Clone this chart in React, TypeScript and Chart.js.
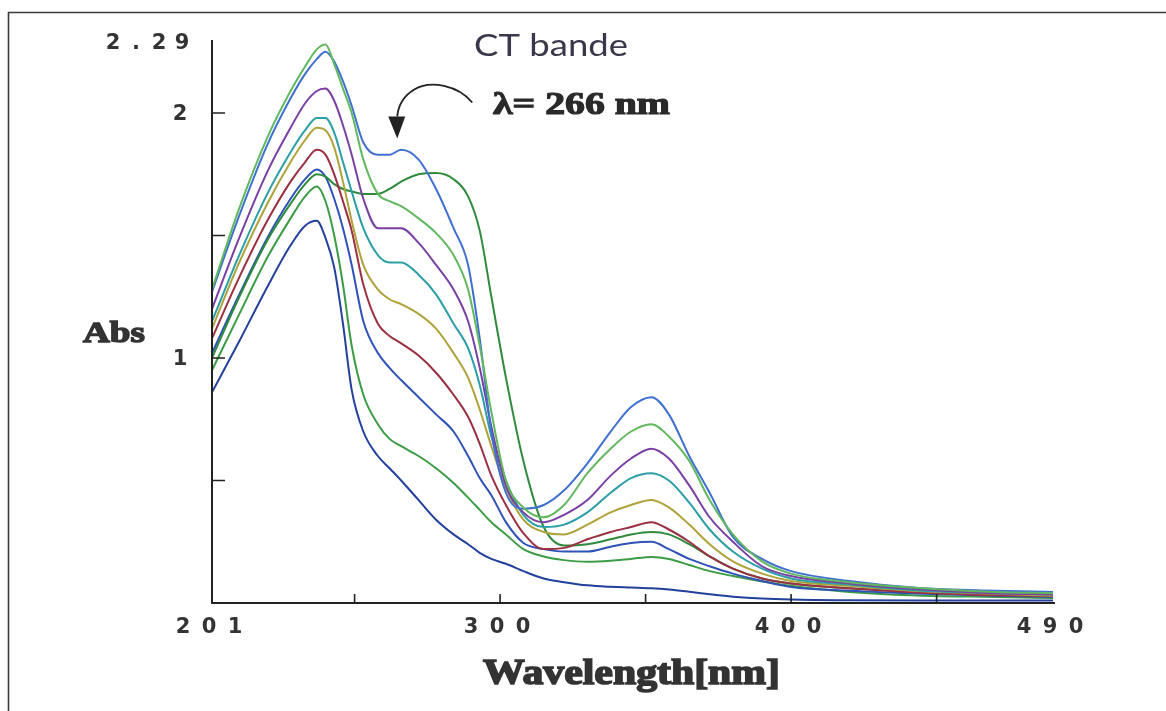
import React, { useEffect, useRef } from "react";
import { Chart, registerables } from "chart.js";

Chart.register(...registerables);

// Wavelength grid (nm)
const wavelengths = [201, 210, 220, 228, 233, 237, 240, 243, 246, 249, 253, 258, 262, 266, 272, 278, 284, 289, 293, 297, 302, 308, 315, 322, 330, 338, 345, 352, 358, 365, 372, 380, 390, 400, 420, 445, 470, 490];

// Absorbance series (top to bottom)
const absLightGreen = [1.28, 1.60, 1.90, 2.09, 2.19, 2.26, 2.28, 2.20, 2.10, 2.00, 1.81, 1.67, 1.64, 1.62, 1.57, 1.51, 1.42, 1.28, 1.05, 0.78, 0.50, 0.39, 0.35, 0.40, 0.53, 0.63, 0.70, 0.73, 0.68, 0.58, 0.42, 0.28, 0.17, 0.12, 0.085, 0.06, 0.045, 0.04];
const absBlue = [1.27, 1.57, 1.87, 2.06, 2.16, 2.22, 2.25, 2.21, 2.13, 2.03, 1.88, 1.83, 1.83, 1.85, 1.81, 1.69, 1.53, 1.38, 1.08, 0.70, 0.45, 0.385, 0.40, 0.46, 0.57, 0.70, 0.80, 0.84, 0.77, 0.60, 0.45, 0.27, 0.18, 0.13, 0.09, 0.06, 0.05, 0.045];
const absPurple = [1.20, 1.48, 1.76, 1.94, 2.04, 2.09, 2.10, 2.05, 1.95, 1.83, 1.65, 1.53, 1.53, 1.53, 1.47, 1.38, 1.28, 1.15, 0.96, 0.72, 0.48, 0.37, 0.33, 0.36, 0.42, 0.52, 0.59, 0.63, 0.59, 0.48, 0.35, 0.25, 0.15, 0.11, 0.08, 0.055, 0.04, 0.035];
const absTeal = [1.15, 1.41, 1.67, 1.84, 1.93, 1.98, 1.98, 1.92, 1.80, 1.68, 1.53, 1.42, 1.39, 1.39, 1.34, 1.26, 1.14, 1.04, 0.89, 0.68, 0.50, 0.36, 0.31, 0.32, 0.37, 0.45, 0.51, 0.53, 0.50, 0.41, 0.30, 0.21, 0.14, 0.10, 0.075, 0.05, 0.04, 0.035];
const absOlive = [1.12, 1.38, 1.63, 1.80, 1.89, 1.94, 1.93, 1.86, 1.72, 1.56, 1.38, 1.28, 1.24, 1.22, 1.18, 1.12, 1.02, 0.92, 0.79, 0.64, 0.47, 0.34, 0.29, 0.28, 0.32, 0.37, 0.40, 0.42, 0.39, 0.32, 0.24, 0.17, 0.12, 0.09, 0.07, 0.048, 0.038, 0.03];
const absRed = [1.08, 1.32, 1.56, 1.72, 1.80, 1.85, 1.83, 1.75, 1.64, 1.52, 1.30, 1.14, 1.09, 1.06, 1.01, 0.94, 0.85, 0.76, 0.65, 0.52, 0.40, 0.285, 0.22, 0.225, 0.26, 0.29, 0.31, 0.33, 0.30, 0.25, 0.19, 0.14, 0.10, 0.08, 0.06, 0.042, 0.032, 0.028];
const absDarkGreen = [1.00, 1.24, 1.48, 1.63, 1.71, 1.75, 1.74, 1.71, 1.69, 1.68, 1.67, 1.67, 1.69, 1.72, 1.75, 1.755, 1.73, 1.66, 1.52, 1.25, 0.92, 0.58, 0.31, 0.235, 0.24, 0.26, 0.28, 0.29, 0.28, 0.24, 0.19, 0.14, 0.10, 0.08, 0.06, 0.045, 0.035, 0.03];
const absBlueMid = [1.02, 1.25, 1.49, 1.65, 1.73, 1.77, 1.74, 1.65, 1.53, 1.38, 1.15, 1.02, 0.96, 0.91, 0.84, 0.77, 0.70, 0.60, 0.51, 0.44, 0.33, 0.245, 0.22, 0.21, 0.21, 0.23, 0.245, 0.25, 0.22, 0.18, 0.15, 0.12, 0.09, 0.065, 0.05, 0.038, 0.03, 0.025];
const absGreenLow = [0.95, 1.17, 1.41, 1.57, 1.66, 1.70, 1.64, 1.50, 1.30, 1.05, 0.85, 0.73, 0.67, 0.64, 0.60, 0.55, 0.49, 0.43, 0.38, 0.33, 0.28, 0.22, 0.19, 0.175, 0.168, 0.172, 0.18, 0.188, 0.18, 0.155, 0.13, 0.11, 0.088, 0.07, 0.045, 0.03, 0.025, 0.02];
const absDarkBlue = [0.86, 1.06, 1.29, 1.46, 1.54, 1.56, 1.49, 1.37, 1.14, 0.87, 0.70, 0.60, 0.55, 0.50, 0.42, 0.34, 0.28, 0.24, 0.205, 0.18, 0.16, 0.13, 0.10, 0.085, 0.072, 0.066, 0.063, 0.06, 0.055, 0.046, 0.036, 0.026, 0.018, 0.014, 0.011, 0.01, 0.01, 0.01];

const seriesList = [absLightGreen, absBlue, absPurple, absTeal, absOlive, absRed, absDarkGreen, absBlueMid, absGreenLow, absDarkBlue];
const seriesColors = ["#62b85e", "#3f70d0", "#7a3fa3", "#2b9ea6", "#aea23a", "#9b3042", "#2f8a3c", "#2f52b8", "#3c9c46", "#22409c"];

// Axis ticks
const xMin = 201;
const xMax = 490;
const yMin = 0;
const yMax = 2.29;
const xTickMarks = [250, 300, 350, 400, 450];
const xTickLabels = [201, 300, 400, 490];
const yTickMarks = [0.5, 1, 1.5, 2];
const yTickValues = [2.29, 2, 1];
const yTickTexts = ["2.29", "2", "1"];

// Texts
const yTitle = "Abs";
const xTitle = "Wavelength[nm]";
const bandTitle = "CT bande";
const lambdaNote = "λ= 266 nm";
const arrowTarget = { x: 265, y: 1.9 };

function fitText(ctx: CanvasRenderingContext2D, text: string, font: string, left: number, baseline: number, width: number, color: string, stroke: number) {
  ctx.save();
  ctx.font = font;
  ctx.fillStyle = color;
  ctx.strokeStyle = color;
  ctx.textAlign = "left";
  ctx.textBaseline = "alphabetic";
  const w = ctx.measureText(text).width;
  ctx.translate(left, baseline);
  ctx.scale(width / w, 1);
  ctx.fillText(text, 0, 0);
  if (stroke > 0) {
    ctx.lineWidth = stroke;
    ctx.strokeText(text, 0, 0);
  }
  ctx.restore();
}

function spacedText(ctx: CanvasRenderingContext2D, text: string, cx: number, cy: number, pitch: number, align: "center" | "right") {
  const n = text.length;
  for (let i = 0; i < n; i++) {
    let px: number;
    if (align === "center") px = cx + (i - (n - 1) / 2) * pitch;
    else px = cx - (n - 1 - i) * pitch;
    ctx.fillText(text[i], px, cy);
  }
}

const decorPlugin = {
  id: "decor",
  beforeDraw(chart: any) {
    const ctx: CanvasRenderingContext2D = chart.ctx;
    ctx.save();
    ctx.fillStyle = "#ffffff";
    ctx.fillRect(0, 0, chart.width, chart.height);
    ctx.strokeStyle = "#3a3a3a";
    ctx.lineWidth = 1.6;
    ctx.beginPath();
    ctx.moveTo(8.5, chart.height);
    ctx.lineTo(8.5, 12.5);
    ctx.lineTo(chart.width, 12.5);
    ctx.stroke();
    ctx.restore();
  },
  afterDatasetsDraw(chart: any) {
    const ctx: CanvasRenderingContext2D = chart.ctx;
    const xs = chart.scales.x;
    const ys = chart.scales.y;
    const x0 = xs.getPixelForValue(xMin);
    const x1 = xs.getPixelForValue(xMax);
    const y0 = ys.getPixelForValue(yMin);
    const yTop = ys.getPixelForValue(yMax);
    ctx.save();
    ctx.strokeStyle = "#222";
    ctx.lineWidth = 2;
    ctx.beginPath();
    ctx.moveTo(x0, yTop - 2);
    ctx.lineTo(x0, y0);
    ctx.lineTo(x1 + 2, y0);
    ctx.stroke();
    ctx.lineWidth = 1.6;
    ctx.beginPath();
    for (const v of yTickMarks) {
      const py = ys.getPixelForValue(v);
      ctx.moveTo(x0, py);
      ctx.lineTo(x0 + 13, py);
    }
    for (const v of xTickMarks) {
      const px = xs.getPixelForValue(v);
      ctx.moveTo(px, y0);
      ctx.lineTo(px, y0 - 9);
    }
    ctx.stroke();

    // tick labels
    ctx.fillStyle = "#333";
    ctx.strokeStyle = "#333";
    ctx.font = 'bold 21px "DejaVu Sans"';
    ctx.textAlign = "center";
    ctx.textBaseline = "middle";
    for (const v of xTickLabels) {
      const px = xs.getPixelForValue(v) - 3;
      spacedText(ctx, String(v), px, y0 + 25, 26, "center");
    }
    yTickValues.forEach((v, i) => {
      const py = ys.getPixelForValue(v) + 2;
      const txt = yTickTexts[i];
      if (txt.length > 1) spacedText(ctx, txt, x0 - 30, py, 23, "right");
      else ctx.fillText(txt, x0 - 32, py);
    });

    // axis titles
    fitText(ctx, yTitle, 'bold 30px "Liberation Serif"', 83, 342, 62, "#333", 1.4);
    fitText(ctx, xTitle, 'bold 36px "Liberation Serif"', 483, 684, 297, "#333", 1.6);

    // annotations
    fitText(ctx, bandTitle, '30px "Lato"', 474, 56, 154, "#38384a", 0);
    fitText(ctx, lambdaNote, 'bold 32px "Liberation Serif"', 493, 114, 177, "#2a2a2a", 1.2);

    const tx = xs.getPixelForValue(arrowTarget.x);
    const ty = ys.getPixelForValue(arrowTarget.y);
    ctx.strokeStyle = "#222";
    ctx.lineWidth = 1.8;
    ctx.beginPath();
    ctx.moveTo(tx + 74, ty - 35);
    ctx.bezierCurveTo(tx + 60, ty - 52, tx + 32, ty - 58, tx + 16, ty - 48);
    ctx.bezierCurveTo(tx + 6, ty - 42, tx, ty - 32, tx - 1, ty - 21);
    ctx.stroke();
    ctx.fillStyle = "#222";
    ctx.beginPath();
    ctx.moveTo(tx - 10, ty - 21);
    ctx.lineTo(tx + 7, ty - 21);
    ctx.lineTo(tx - 1, ty + 1);
    ctx.closePath();
    ctx.fill();
    ctx.restore();
  },
};

export default function App() {
  const canvasRef = useRef<HTMLCanvasElement | null>(null);

  useEffect(() => {
    const canvas = canvasRef.current;
    if (!canvas) return;
    const datasets = seriesList.map((arr, si) => ({
      label: "S" + (si + 1),
      data: wavelengths.map((w, i) => ({ x: w, y: arr[i] })),
      borderColor: seriesColors[si],
      backgroundColor: seriesColors[si],
      borderWidth: 2,
      pointRadius: 0,
      fill: false,
      cubicInterpolationMode: "monotone" as const,
    }));
    const chart = new Chart(canvas, {
      type: "line",
      data: { datasets },
      options: {
        responsive: false,
        animation: false,
        devicePixelRatio: 1,
        events: [],
        layout: { padding: { left: 212, right: 113, top: 42, bottom: 108 } },
        scales: {
          x: { type: "linear", min: xMin, max: xMax, display: false },
          y: { type: "linear", min: yMin, max: yMax, display: false },
        },
        plugins: { legend: { display: false }, tooltip: { enabled: false } },
      },
      plugins: [decorPlugin],
    });
    return () => chart.destroy();
  }, []);

  return (
    <div style={{ position: "absolute", left: 0, top: 0, width: 1166, height: 711, background: "#fff" }}>
      <canvas ref={canvasRef} width={1166} height={711} style={{ display: "block" }} />
    </div>
  );
}
